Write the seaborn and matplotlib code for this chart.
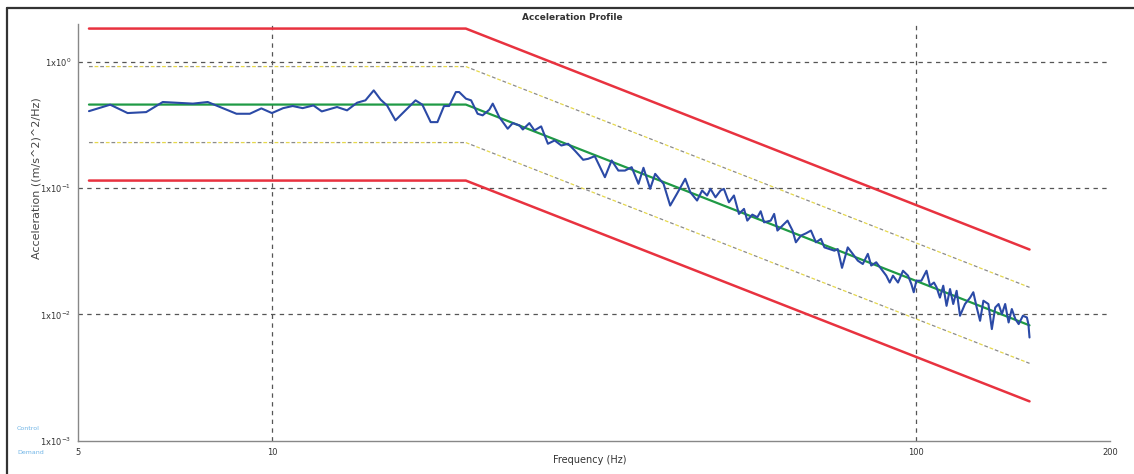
import numpy as np
import pandas as pd
import matplotlib
matplotlib.use("Agg")
import matplotlib.pyplot as plt
from matplotlib.lines import Line2D
import seaborn as sns

# Reference PSD profile and tolerance bands (frequency breakpoints in Hz, PSD in (m/s^2)^2/Hz)
profile_freq = [5.2, 20.0, 150.0]
demand_psd = [0.46, 0.46, 0.0082]
abort_hi_psd = [1.84, 1.84, 0.0327]
alarm_hi_psd = [0.92, 0.92, 0.0164]
alarm_lo_psd = [0.23, 0.23, 0.0041]
abort_lo_psd = [0.115, 0.115, 0.00205]

# Measured control spectrum
control_freq = [
    5.2, 5.61, 5.97, 6.38, 6.77, 7.10, 7.54, 7.95, 8.35, 8.81,
    9.24, 9.63, 10.0, 10.41, 10.77, 11.16, 11.60, 11.95, 12.62, 13.08,
    13.56, 13.97, 14.39, 14.75, 15.09, 15.55, 16.22, 16.71, 17.12, 17.64,
    18.07, 18.50, 18.84, 19.30, 19.53, 20.01, 20.38, 20.86, 21.24, 21.75,
    22.02, 22.54, 23.23, 23.65, 24.22, 24.52, 25.10, 25.56, 26.18, 26.82,
    27.47, 28.14, 28.83, 29.52, 30.42, 30.97, 31.71, 32.88, 33.68, 34.50,
    35.32, 36.18, 37.07, 37.74, 38.65, 39.35, 40.55, 41.52, 42.53, 43.82,
    44.62, 45.71, 46.54, 47.38, 47.95, 48.82, 49.71, 50.31, 51.22, 52.15,
    53.09, 54.06, 54.70, 55.69, 56.70, 57.38, 58.08, 59.48, 60.21, 60.92,
    62.03, 63.16, 64.30, 65.07, 66.25, 67.45, 68.67, 69.91, 71.18, 72.05,
    73.35, 74.68, 75.57, 76.74, 78.33, 79.74, 81.19, 82.66, 84.16, 85.18,
    86.72, 88.29, 89.89, 91.00, 92.07, 93.74, 95.43, 97.16, 98.33, 99.17,
    100.1, 101.9, 103.8, 105.1, 106.6, 107.6, 108.9, 110.2, 111.5, 112.9,
    114.2, 115.6, 117.0, 119.1, 121.3, 122.7, 124.2, 125.7, 127.2, 129.5,
    131.1, 132.7, 134.3, 135.9, 137.5, 139.2, 140.8, 142.6, 144.3, 146.5,
    148.6, 149.4, 150.0,
]
control_psd = [
    0.408, 0.459, 0.394, 0.401, 0.482, 0.476, 0.468, 0.482, 0.435, 0.389,
    0.389, 0.429, 0.394, 0.431, 0.448, 0.431, 0.453, 0.406, 0.440, 0.414,
    0.476, 0.497, 0.596, 0.503, 0.453, 0.345, 0.427, 0.497, 0.459, 0.334,
    0.334, 0.448, 0.448, 0.578, 0.578, 0.512, 0.497, 0.389, 0.378, 0.419,
    0.468, 0.366, 0.296, 0.328, 0.315, 0.292, 0.328, 0.287, 0.309, 0.225,
    0.239, 0.218, 0.225, 0.199, 0.168, 0.171, 0.1795, 0.1223, 0.166, 0.138,
    0.138, 0.1468, 0.1084, 0.1452, 0.0989, 0.130, 0.1084, 0.0729, 0.0903, 0.1188,
    0.0929, 0.0799, 0.0959, 0.0876, 0.0989, 0.0848, 0.0959, 0.0989, 0.0774, 0.0876,
    0.0626, 0.0686, 0.0554, 0.0618, 0.0589, 0.0657, 0.0537, 0.0554, 0.0626, 0.0462,
    0.0506, 0.0554, 0.0462, 0.0373, 0.0421, 0.0439, 0.0462, 0.0373, 0.0397, 0.0340,
    0.0330, 0.0320, 0.0330, 0.0234, 0.0340, 0.0302, 0.0267, 0.0251, 0.0302, 0.0244,
    0.0259, 0.0229, 0.0203, 0.0179, 0.0203, 0.0179, 0.0222, 0.0203, 0.0174, 0.0150,
    0.0185, 0.0185, 0.0222, 0.0169, 0.0179, 0.0164, 0.0136, 0.0169, 0.0117, 0.0159,
    0.0121, 0.0154, 0.00977, 0.0121, 0.0136, 0.0150, 0.01136, 0.00891, 0.01285, 0.0121,
    0.00766, 0.01136, 0.0121, 0.01007, 0.0121, 0.00864, 0.01104, 0.00919, 0.00839, 0.00977,
    0.00947, 0.00839, 0.00657,
]

x_ticks = [5, 10, 100, 200]
x_tick_labels = ["5", "10", "100", "200"]
y_ticks = [1.0, 0.1, 0.01, 0.001]
y_tick_labels = ["1x10$^{0}$", "1x10$^{-1}$", "1x10$^{-2}$", "1x10$^{-3}$"]
x_grid = [10, 100]
y_grid = [1.0, 0.1, 0.01]

sns.set_style("white")
plt.rcParams["font.family"] = ["DejaVu Sans"]

W, H = 1134, 474
fig = plt.figure(figsize=(W / 100, H / 100), dpi=100)
left, right, top, bottom = 78, 1110, 24, 440.7
ax = fig.add_axes([left / W, 1 - bottom / H, (right - left) / W, (bottom - top) / H])
ax.set_xscale("log")
ax.set_yscale("log")
ax.set_xlim(5, 200)
ax.set_ylim(1e-3, 2.0)

# dashed grid at the labelled decades
for gx in x_grid:
    ax.axvline(gx, color="#555555", lw=0.9, ls=(0, (3.5, 3.5)), zorder=1)
for gy in y_grid:
    ax.axhline(gy, color="#555555", lw=0.9, ls=(0, (3.5, 3.5)), zorder=1)

bands = pd.DataFrame({
    "freq": profile_freq,
    "demand": demand_psd,
    "abort_hi": abort_hi_psd,
    "alarm_hi": alarm_hi_psd,
    "alarm_lo": alarm_lo_psd,
    "abort_lo": abort_lo_psd,
})
control = pd.DataFrame({"freq": control_freq, "psd": control_psd})

# alarm lines: alternating grey / yellow short dashes
for col in ["alarm_hi", "alarm_lo"]:
    sns.lineplot(data=bands, x="freq", y=col, ax=ax, color="#8a8a8a", lw=0.9,
                 estimator=None, sort=False, zorder=2)
    ax.lines[-1].set_linestyle((0, (3, 6)))
    sns.lineplot(data=bands, x="freq", y=col, ax=ax, color="#e6d84a", lw=0.9,
                 estimator=None, sort=False, zorder=2)
    ax.lines[-1].set_linestyle((4.5, (3, 6)))

# abort lines
for col in ["abort_hi", "abort_lo"]:
    sns.lineplot(data=bands, x="freq", y=col, ax=ax, color="#e8323f", lw=1.8,
                 estimator=None, sort=False, zorder=3)

# demand profile and control response
sns.lineplot(data=bands, x="freq", y="demand", ax=ax, color="#1f9a45", lw=1.6,
             estimator=None, sort=False, zorder=4)
sns.lineplot(data=control, x="freq", y="psd", ax=ax, color="#2b4aa6", lw=1.5,
             estimator=None, sort=False, zorder=5)

ax.set_xlabel("")
ax.set_ylabel("")
ax.set_xticks(x_ticks)
ax.set_xticklabels(x_tick_labels)
ax.set_yticks(y_ticks)
ax.set_yticklabels(y_tick_labels)
ax.xaxis.set_minor_formatter(plt.NullFormatter())
ax.yaxis.set_minor_formatter(plt.NullFormatter())
ax.tick_params(axis="both", which="major", direction="out", length=3, width=0.8,
               color="#777777", labelsize=6, labelcolor="#333333", pad=2)
ax.tick_params(axis="both", which="minor", direction="out", length=1.8, width=0.6,
               color="#888888")
for s in ["top", "right"]:
    ax.spines[s].set_visible(False)
for s in ["left", "bottom"]:
    ax.spines[s].set_color("#888888")
    ax.spines[s].set_linewidth(1.0)

fig.text(572 / W, 1 - 18 / H, "Acceleration Profile", ha="center", va="center",
         fontsize=6.5, fontweight="bold", color="#333333")
fig.text(590 / W, 1 - 460 / H, "Frequency (Hz)", ha="center", va="center",
         fontsize=7, color="#333333")
fig.text(37 / W, 1 - 178 / H, "Acceleration ((m/s^2)^2/Hz)", ha="center", va="center",
         rotation=90, fontsize=8, color="#444444")
fig.text(17 / W, 1 - 428 / H, "Control", ha="left", va="center", fontsize=4.5,
         color="#6fb4e6")
fig.text(17 / W, 1 - 453 / H, "Demand", ha="left", va="center", fontsize=4.5,
         color="#6fb4e6")

# outer frame
fig.add_artist(Line2D([7 / W, 7 / W], [0, 1 - 8 / H], color="#333333", lw=1.6))
fig.add_artist(Line2D([7 / W, 1], [1 - 8 / H, 1 - 8 / H], color="#333333", lw=1.6))

fig.savefig("out.png", dpi=100)
